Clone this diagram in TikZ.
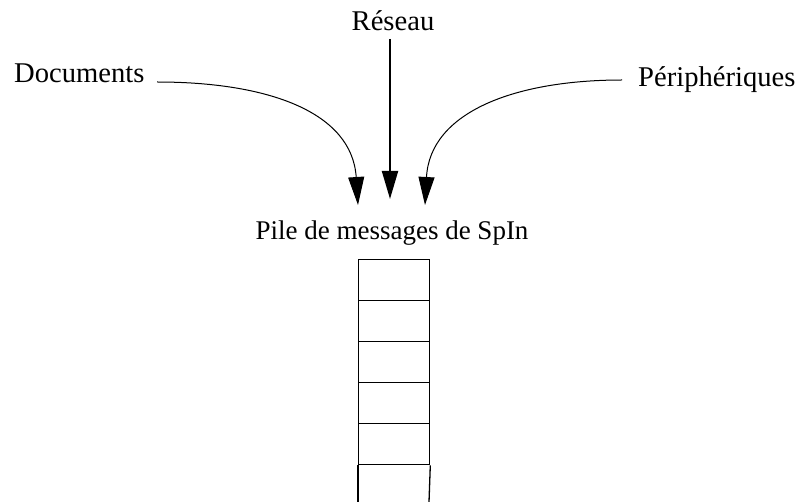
\documentclass[tikz,border=0pt]{standalone}
\usepackage{fontspec}
\setmainfont{Liberation Serif}
\usetikzlibrary{arrows.meta}
\tikzset{
  lbl/.style={inner sep=0pt, font=\fontsize{28.6}{34}\selectfont},
  conn/.style={line width=1pt, -{Triangle[length=28pt,width=16pt]}},
  shaft/.style={line width=2pt, -{Triangle[length=28pt,width=16pt]}},
  cell/.style={draw, line width=1.3pt, minimum width=71pt, minimum height=41pt, inner sep=0pt, anchor=north west},
}
\begin{document}
\begin{tikzpicture}[x=1pt,y=-1pt]
\useasboundingbox (0,0) rectangle (800,502);
\node[lbl, anchor=base west] (doc) at (14,83) {Documents};
\node[lbl, anchor=base] (res) at (393,31) {Réseau};
\node[lbl, anchor=base west] (per) at (638,87) {Périphériques};
\node[lbl, anchor=base, font=\fontsize{27}{32}\selectfont] (pile) at (392,240) {Pile de messages de SpIn};
\coordinate (docout) at (157,82);
\coordinate (perout) at (622,80);
\coordinate (resout) at (390,39);
\coordinate (tipL) at (358,205);
\coordinate (tipM) at (390,199);
\coordinate (tipR) at (425,205);
\draw[conn] (docout) .. controls (268,82) and (352,112) .. (tipL);
\draw[conn] (perout) .. controls (515,80) and (430,112) .. (tipR);
\draw[shaft] (resout) -- (tipM);
\node[cell] (c1) at (358,259) {};
\node[cell] (c2) at (358,300) {};
\node[cell] (c3) at (358,341) {};
\node[cell] (c4) at (358,382) {};
\node[cell] (c5) at (358,423) {};
\coordinate (c6bl) at (358,502);
\coordinate (c6br) at (429,502);
\draw[line width=1.3pt] (c5.south west) -- (c6bl);
\draw[line width=1.3pt] (c5.south east) -- (c6br);
\end{tikzpicture}
\end{document}
